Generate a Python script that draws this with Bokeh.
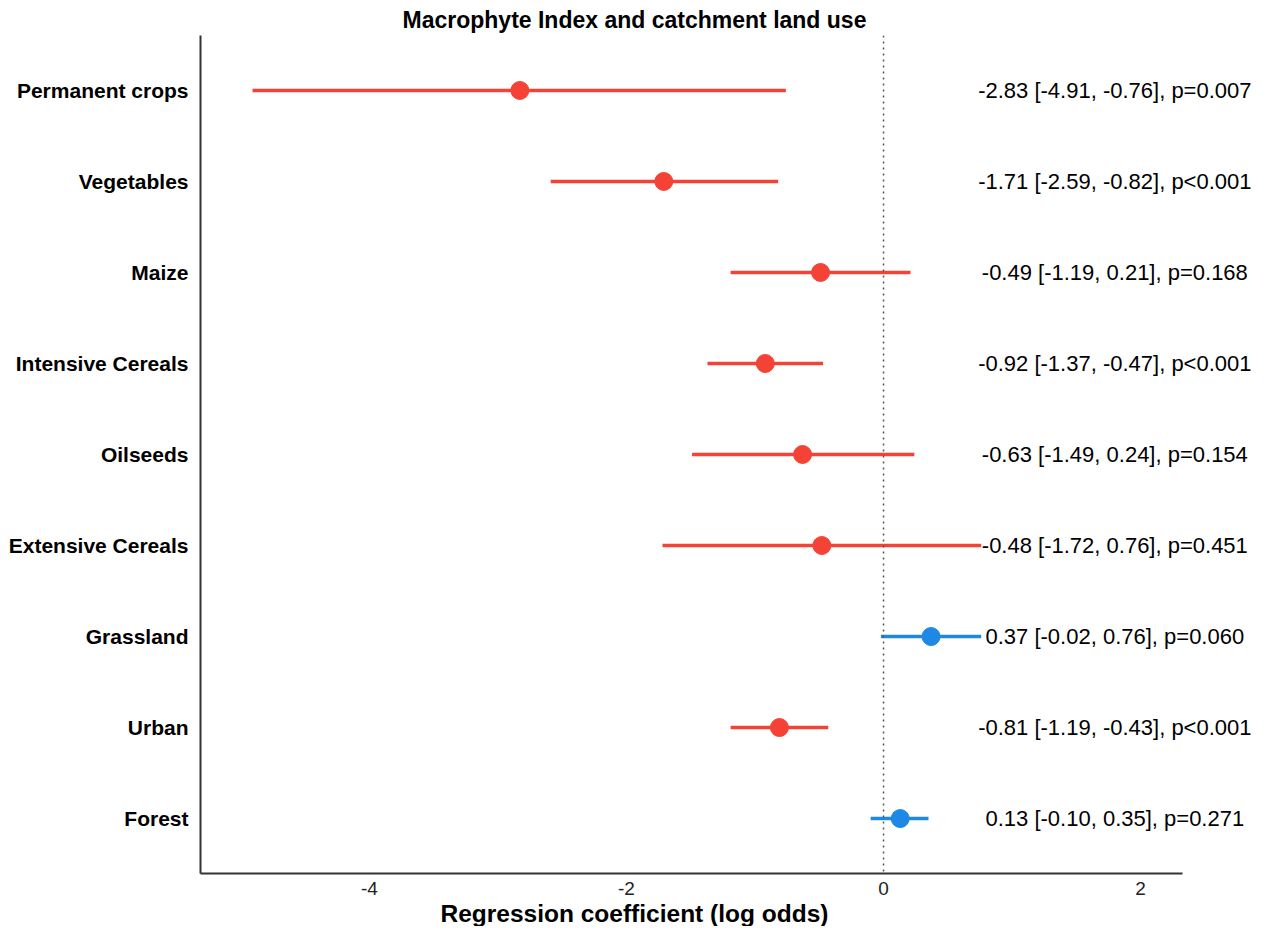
from bokeh.plotting import figure
from bokeh.models import ColumnDataSource, Range1d, FixedTicker, Span, LabelSet, Title
from bokeh.embed import file_html
from bokeh.resources import INLINE
from bokeh.core.properties import value

categories = ["Permanent crops", "Vegetables", "Maize", "Intensive Cereals", "Oilseeds",
              "Extensive Cereals", "Grassland", "Urban", "Forest"]
estimates = [-2.83, -1.71, -0.49, -0.92, -0.63, -0.48, 0.37, -0.81, 0.13]
lower = [-4.91, -2.59, -1.19, -1.37, -1.49, -1.72, -0.02, -1.19, -0.10]
upper = [-0.76, -0.82, 0.21, -0.47, 0.24, 0.76, 0.76, -0.43, 0.35]
p_text = ["p=0.007", "p<0.001", "p=0.168", "p<0.001", "p=0.154", "p=0.451", "p=0.060", "p<0.001", "p=0.271"]
x_ticks = [-4, -2, 0, 2]
x_tick_labels = ["-4", "-2", "0", "2"]

RED = "#F44336"
BLUE = "#1E88E5"
FONT = "Liberation Sans"

X_START, X_END, AXIS_END = -5.315, 2.879, 2.33
LABEL_X = 1.80

n = len(categories)
ys = [n - i for i in range(n)]
colors = [BLUE if e > 0 else RED for e in estimates]
labels = [f"{e:.2f} [{l:.2f}, {u:.2f}], {p}" for e, l, u, p in zip(estimates, lower, upper, p_text)]

src = ColumnDataSource(dict(y=ys, est=estimates, lo=lower, hi=upper, color=colors,
                            label=labels, lx=[LABEL_X] * n))

p = figure(width=1253, height=926, output_backend="svg", toolbar_location=None,
           x_range=Range1d(X_START, X_END), y_range=Range1d(0.396, 9.604),
           min_border_left=200, min_border_right=0, min_border_top=35, min_border_bottom=53,
           title="Macrophyte Index and catchment land use")
p.outline_line_color = None
p.xgrid.visible = False
p.ygrid.visible = False
p.background_fill_color = "white"
p.border_fill_color = "white"

p.title.align = "left"
p.title.offset = 202
p.title.vertical_align = "middle"
p.title.text_font = FONT
p.title.text_font_style = "bold"
p.title.text_font_size = "23px"
p.title.text_color = "black"
p.title.standoff = 4

p.add_layout(Span(location=0, dimension="height", line_color="#555555",
                  line_width=1.5, line_dash="2 4"))

p.segment(x0="lo", x1="hi", y0="y", y1="y", line_color="color", line_width=3.5, source=src)
p.scatter(x="est", y="y", size=18, fill_color="color", line_color="color", source=src)

p.add_layout(LabelSet(x="lx", y="y", text="label", source=src, text_align="center",
                      text_baseline="middle", text_font=value(FONT), text_font_size="22px",
                      text_color="black"))

# axes
p.xaxis.ticker = FixedTicker(ticks=x_ticks)
p.xaxis.major_label_overrides = dict(zip(x_ticks, x_tick_labels))
p.xaxis.bounds = (X_START, AXIS_END)
p.xaxis.major_tick_line_color = None
p.xaxis.minor_tick_line_color = None
p.xaxis.major_tick_out = 0
p.xaxis.major_tick_in = 0
p.xaxis.major_label_standoff = 8
p.xaxis.major_label_text_font = FONT
p.xaxis.major_label_text_font_size = "19px"
p.xaxis.major_label_text_color = "#222222"
p.xaxis.axis_line_color = "#333333"
p.xaxis.axis_line_width = 2

p.yaxis.ticker = FixedTicker(ticks=ys)
p.yaxis.major_label_overrides = {y: c for y, c in zip(ys, categories)}
p.yaxis.major_tick_line_color = None
p.yaxis.minor_tick_line_color = None
p.yaxis.major_tick_out = 0
p.yaxis.major_tick_in = 0
p.yaxis.major_label_standoff = 12
p.yaxis.major_label_text_font = FONT
p.yaxis.major_label_text_font_style = "bold"
p.yaxis.major_label_text_font_size = "21px"
p.yaxis.major_label_text_color = "black"
p.yaxis.axis_line_color = "#333333"
p.yaxis.axis_line_width = 2

p.add_layout(Title(text="Regression coefficient (log odds)", align="left", offset=240,
                   text_font=FONT, text_font_style="bold", text_font_size="24.5px",
                   text_color="black", standoff=0), "below")

open("out.html", "w").write(file_html(p, INLINE))
